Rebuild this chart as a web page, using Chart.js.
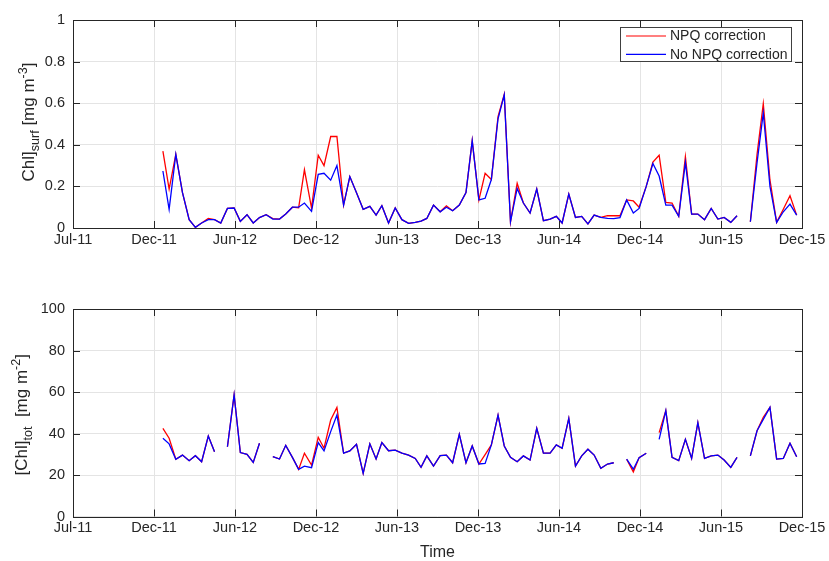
<!DOCTYPE html>
<html>
<head>
<meta charset="utf-8">
<script src="https://cdn.jsdelivr.net/npm/chart.js@4.4.1/dist/chart.umd.min.js"></script>
<style>
body { margin: 0; background: #fff; }
#wrap { position: relative; width: 829px; height: 561px; }
canvas { position: absolute; left: 0; }
</style>
</head>
<body>
<div id="wrap">
<canvas id="SurfCanvas" width="829" height="280" style="top:0"></canvas>
<canvas id="TotCanvas" width="829" height="281" style="top:280px"></canvas>
</div>
<script>
//------------------------------------------------------------------------------
// Data - sample day counted from the Jul-11 tick (tick marks every 182 days)
//------------------------------------------------------------------------------
const xTickLabels = ['Jul-11','Dec-11','Jun-12','Dec-12','Jun-13','Dec-13','Jun-14','Dec-14','Jun-15','Dec-15']
const tickStep = 182

const sampleDay = [
  202, 216, 231, 246, 261, 275, 289, 304, 318, 332,
  347, 362, 376, 391, 405, 419, 434, 449, 464, 478,
  493, 507, 520, 536, 551, 564, 579, 593, 608, 622,
  637, 652, 667, 681, 694, 709, 724, 739, 754, 769,
  782, 795, 810, 825, 839, 853, 868, 883, 897, 912,
  926, 940, 955, 969, 983, 998, 1012, 1027, 1042, 1057,
  1072, 1086, 1099, 1114, 1129, 1143, 1157, 1171, 1186, 1201,
  1215, 1229, 1244, 1259, 1272, 1288, 1303, 1317, 1332, 1346,
  1361, 1376, 1390, 1404, 1419, 1434, 1449, 1463, 1478, 1492,
  1507, 1522, 1537, 1551, 1566, 1581, 1596, 1611, 1626
]

// [Chl]surf, mg m-3
const surfNpq = [
  0.37, 0.187, 0.354, 0.17, 0.04, 0.003, 0.024, 0.046, 0.04, 0.024,
  0.094, 0.096, 0.032, 0.064, 0.024, 0.05, 0.064, 0.045, 0.043, 0.067,
  0.10, 0.097, 0.28, 0.096, 0.35, 0.30, 0.44, 0.44, 0.11, 0.247,
  0.17, 0.09, 0.104, 0.062, 0.107, 0.024, 0.096, 0.04, 0.022, 0.027,
  0.033, 0.046, 0.11, 0.078, 0.107, 0.083, 0.11, 0.17, 0.42, 0.135,
  0.263, 0.233, 0.535, 0.643, 0.03, 0.215, 0.12, 0.072, 0.187, 0.035,
  0.043, 0.056, 0.024, 0.163, 0.051, 0.056, 0.02, 0.062, 0.051, 0.059,
  0.059, 0.059, 0.135, 0.13, 0.10, 0.20, 0.317, 0.35, 0.123, 0.12,
  0.056, 0.343, 0.067, 0.067, 0.04, 0.094, 0.043, 0.051, 0.027, 0.059,
  null, 0.03, 0.354, 0.598, 0.231, 0.027, 0.09, 0.155, 0.062
]
const surfNoNpq = [
  0.274, 0.09, 0.354, 0.17, 0.04, 0.003, 0.024, 0.04, 0.04, 0.024,
  0.094, 0.096, 0.032, 0.064, 0.024, 0.05, 0.064, 0.043, 0.043, 0.067,
  0.10, 0.10, 0.12, 0.08, 0.258, 0.263, 0.23, 0.30, 0.11, 0.247,
  0.17, 0.09, 0.104, 0.062, 0.107, 0.024, 0.096, 0.04, 0.022, 0.027,
  0.033, 0.046, 0.11, 0.078, 0.10, 0.083, 0.11, 0.17, 0.42, 0.135,
  0.143, 0.233, 0.525, 0.64, 0.03, 0.19, 0.12, 0.072, 0.187, 0.035,
  0.043, 0.056, 0.024, 0.163, 0.051, 0.056, 0.02, 0.062, 0.051, 0.046,
  0.045, 0.05, 0.135, 0.072, 0.094, 0.20, 0.31, 0.25, 0.11, 0.11,
  0.056, 0.314, 0.067, 0.067, 0.04, 0.094, 0.043, 0.051, 0.027, 0.059,
  null, 0.03, 0.314, 0.553, 0.20, 0.027, 0.078, 0.115, 0.062
]

// [Chl]tot, mg m-2
const totNpq = [
  42.5, 37.7, 27.6, 29.6, 26.9, 29.3, 26.4, 38.8, 31.2, null,
  33.6, 58.6, 30.8, 30, 26.1, 35.3, null, 28.8, 27.7, 34.3,
  28.5, 22.7, 30.5, 24.8, 38.2, 32.9, 46.5, 52.6, 30.5, 31.6,
  34.8, 20.8, 35, 27.7, 35.6, 31.7, 32, 30.5, 29.6, 28,
  23.7, 29.2, 24.3, 29.3, 29.6, 25.9, 39.6, 25.9, 34, 25.3,
  29.8, 34.5, 48.9, 34, 28.5, 26.4, 29.2, 27.2, 42.5, 30.5,
  30.5, 34.5, 32.9, 47.3, 24.3, 29.2, 32.4, 29.6, 23.2, 25.3,
  25.9, null, 27.6, 21.5, 28.3, 30.5, null, 40.4, 51, 28.5,
  26.9, 37.2, 28, 45.2, 28, 29.2, 29.6, 27.2, 23.7, 28.5,
  null, 29.2, 41.3, 47.8, 52.6, 27.7, 28, 35.3, 28.8
]
const totNoNpq = [
  37.7, 35, 27.6, 29.6, 26.9, 29.3, 26.4, 38.8, 31.2, null,
  33.6, 58.6, 30.8, 30, 26.1, 35.3, null, 28.8, 27.7, 34.3,
  28.5, 22.7, 24.3, 23.5, 35.6, 31.6, 40.9, 48.9, 30.5, 31.6,
  34.8, 20.8, 35, 27.7, 35.6, 31.7, 32, 30.5, 29.6, 28,
  23.7, 29.2, 24.3, 29.3, 29.6, 25.9, 39.6, 25.9, 34, 25.3,
  25.6, 34.5, 48.9, 34, 28.5, 26.4, 29.2, 27.2, 42.5, 30.5,
  30.5, 34.5, 32.9, 47.3, 24.3, 29.2, 32.4, 29.6, 23.2, 25.3,
  25.9, null, 27.6, 22.8, 28.3, 30.5, null, 37.2, 51, 28.5,
  26.9, 37.2, 28, 45.2, 28, 29.2, 29.6, 27.2, 23.7, 28.5,
  null, 29.2, 41.3, 46.8, 52.6, 27.7, 28, 35.3, 28.8
]

const fontFamily = '"Liberation Sans", Arial, Helvetica, sans-serif'
const textColor = '#262626'
const gridColor = '#e4e4e4'

//------------------------------------------------------------------------------
// Plugins: matlab style box + inner ticks, legend box, y title with sub/sup
//------------------------------------------------------------------------------
const axesBox = {
  id: 'axesBox',
  afterDraw(chart) {
    const { ctx, chartArea: a, scales } = chart
    const tl = 7
    ctx.save()
    ctx.strokeStyle = textColor
    ctx.lineWidth = 1
    ctx.beginPath()
    scales.x.ticks.forEach(t => {
      const px = Math.round(scales.x.getPixelForValue(t.value)) + 0.5
      ctx.moveTo(px, a.bottom); ctx.lineTo(px, a.bottom - tl)
      ctx.moveTo(px, a.top); ctx.lineTo(px, a.top + tl)
    })
    scales.y.ticks.forEach(t => {
      const py = Math.round(scales.y.getPixelForValue(t.value)) + 0.5
      ctx.moveTo(a.left, py); ctx.lineTo(a.left + tl, py)
      ctx.moveTo(a.right, py); ctx.lineTo(a.right - tl, py)
    })
    ctx.stroke()
    ctx.strokeRect(Math.round(a.left) + 0.5, Math.round(a.top) + 0.5,
      Math.round(a.right - a.left), Math.round(a.bottom - a.top))
    ctx.restore()
  }
}

const boxLegend = {
  id: 'boxLegend',
  afterDraw(chart) {
    const { ctx, chartArea: a } = chart
    const items = chart.data.datasets
    ctx.save()
    ctx.font = '14px ' + fontFamily
    const textW = Math.max(...items.map(d => ctx.measureText(d.label).width))
    const w = Math.round(6 + 40 + 4 + textW + 4)
    const h = 34
    const right = Math.round(a.right - 11)
    const top = Math.round(a.top + 7)
    const left = right - w
    ctx.fillStyle = '#fff'
    ctx.fillRect(left, top, w, h)
    ctx.strokeStyle = '#404040'
    ctx.lineWidth = 1
    ctx.strokeRect(left + 0.5, top + 0.5, w, h)
    items.forEach((d, i) => {
      const y = top + 9 + i * 18.3
      ctx.strokeStyle = d.borderColor
      ctx.lineWidth = 1.2
      ctx.beginPath()
      ctx.moveTo(left + 6, y); ctx.lineTo(left + 46, y)
      ctx.stroke()
      ctx.fillStyle = textColor
      ctx.textBaseline = 'middle'
      ctx.fillText(d.label, left + 50, y + 0.5)
    })
    ctx.restore()
  }
}

const richYTitle = {
  id: 'richYTitle',
  afterDraw(chart, args, opts) {
    if (!opts.parts) return
    const { ctx, chartArea: a } = chart
    const big = opts.size, small = opts.size * 0.74
    ctx.save()
    ctx.fillStyle = textColor
    ctx.textBaseline = 'alphabetic'
    ctx.translate(opts.x, (a.top + a.bottom) / 2 + opts.dy)
    ctx.rotate(-Math.PI / 2)
    let total = 0
    opts.parts.forEach(p => {
      ctx.font = (p.s ? small : big) + 'px ' + fontFamily
      total += ctx.measureText(p.t).width
    })
    let x = -total / 2
    opts.parts.forEach(p => {
      ctx.font = (p.s ? small : big) + 'px ' + fontFamily
      const off = p.s === 'sub' ? 5 : p.s === 'sup' ? -7 : 0
      ctx.fillText(p.t, x, off)
      x += ctx.measureText(p.t).width
    })
    ctx.restore()
  }
}

//------------------------------------------------------------------------------
// Build one panel
//------------------------------------------------------------------------------
function makePanel(canvas, npq, noNpq, yMax, yStep, cfg) {
  const tickFont = { family: fontFamily, size: 14.5 }
  const xScale = {
    type: 'linear',
    min: 0,
    max: tickStep * (xTickLabels.length - 1),
    afterBuildTicks: s => { s.ticks = xTickLabels.map((l, i) => ({ value: i * tickStep })) },
    ticks: { callback: (v, i) => xTickLabels[i], autoSkip: false, maxRotation: 0, padding: 3, color: textColor, font: tickFont },
    grid: { color: gridColor, drawTicks: false },
    border: { display: false },
    afterFit: s => { s.height = cfg.xHeight }
  }
  if (cfg.xTitle) {
    xScale.title = { display: true, text: cfg.xTitle, color: textColor,
      font: { family: fontFamily, size: 16, lineHeight: 1 }, padding: { top: 0, bottom: 0 } }
  }
  return new Chart(canvas, {
    type: 'line',
    data: {
      datasets: [{
        label: 'NPQ correction',
        data: sampleDay.map((d, i) => ({ x: d, y: npq[i] })),
        borderColor: '#ff0000',
        borderWidth: 1.3,
        pointRadius: 0,
        order: 1
      }, {
        label: 'No NPQ correction',
        data: sampleDay.map((d, i) => ({ x: d, y: noNpq[i] })),
        borderColor: '#0000ff',
        borderWidth: 1.3,
        pointRadius: 0,
        order: 0
      }]
    },
    options: {
      responsive: false,
      animation: false,
      spanGaps: false,
      layout: { padding: { left: 0, top: cfg.top, right: 27, bottom: 0 } },
      scales: {
        x: xScale,
        y: {
          min: 0,
          max: yMax,
          ticks: {
            stepSize: yStep, padding: 8, color: textColor, font: tickFont,
            callback: v => String(parseFloat(v.toFixed(1)))
          },
          grid: { color: gridColor, drawTicks: false },
          border: { display: false },
          afterFit: s => { s.width = 73 }
        }
      },
      plugins: {
        legend: { display: false },
        tooltip: { enabled: false },
        richYTitle: cfg.yTitle
      }
    },
    plugins: cfg.legend ? [axesBox, richYTitle, boxLegend] : [axesBox, richYTitle]
  })
}

makePanel(document.getElementById('SurfCanvas'), surfNpq, surfNoNpq, 1, 0.2, {
  top: 20, xHeight: 52, legend: true,
  yTitle: { x: 34, dy: -2, size: 17, parts: [
    { t: 'Chl]' }, { t: 'surf', s: 'sub' }, { t: ' [mg m' }, { t: '-3', s: 'sup' }, { t: ']' }
  ] }
})

makePanel(document.getElementById('TotCanvas'), totNpq, totNoNpq, 100, 20, {
  top: 29, xHeight: 44.5, xTitle: 'Time',
  yTitle: { x: 27, dy: 2, size: 17, parts: [
    { t: '[Chl]' }, { t: 'tot', s: 'sub' }, { t: '  [mg m' }, { t: '-2', s: 'sup' }, { t: ']' }
  ] }
})
</script>
</body>
</html>
